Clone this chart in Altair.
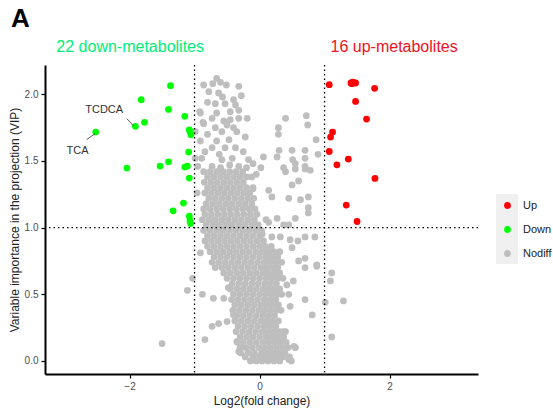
import altair as alt
import pandas as pd

# ---- significant metabolites ----
down_x = [-2.52, -1.91, -1.77, -1.82, -1.37, -1.40, -1.15, -1.08, -1.055, -2.04, -1.53,
          -1.40, -1.09, -1.15, -1.11, -1.08, -1.17, -1.33, -1.08, -1.06, -1.07, -1.07]
down_y = [1.717, 1.76, 1.79, 1.96, 2.065, 1.887, 1.835, 1.734, 1.697, 1.447, 1.462,
          1.494, 1.567, 1.454, 1.462, 1.372, 1.184, 1.126, 1.086, 1.031, 1.72, 1.05]

up_x = [1.072, 1.406, 1.437, 1.477, 1.77, 1.477, 1.646, 1.123, 1.092, 1.072, 1.365,
        1.19, 1.775, 1.334, 1.50, 1.42]
up_y = [2.072, 2.085, 2.092, 2.085, 2.045, 1.947, 1.814, 1.717, 1.679, 1.571, 1.514,
        1.471, 1.369, 1.169, 1.046, 2.08]

# ---- non-differential metabolites: dense core, one row per VIP level ----
core_rows = [
    (0.00, [-0.14, -0.05, 0.04, 0.13, 0.22, 0.31]),
    (0.03, [-0.22, -0.10, 0.00, 0.09, 0.18, 0.27, 0.36, 0.46]),
    (0.06, [-0.29, -0.18, -0.08, 0.03, 0.12, 0.21, 0.30, 0.39]),
    (0.10, [-0.30, -0.21, -0.11, -0.01, 0.08, 0.17, 0.26, 0.35, 0.44, 0.55]),
    (0.14, [-0.34, -0.25, -0.15, -0.05, 0.05, 0.14, 0.23, 0.32, 0.41]),
    (0.18, [-0.30, -0.20, -0.10, 0.00, 0.10, 0.19, 0.28, 0.37]),
    (0.22, [-0.36, -0.26, -0.16, -0.06, 0.04, 0.13, 0.22, 0.31, 0.40]),
    (0.26, [-0.33, -0.23, -0.13, -0.03, 0.07, 0.16, 0.25]),
    (0.30, [-0.38, -0.28, -0.18, -0.08, 0.02, 0.11, 0.20, 0.29]),
    (0.34, [-0.35, -0.25, -0.15, -0.05, 0.05, 0.14, 0.23]),
    (0.38, [-0.41, -0.31, -0.21, -0.11, -0.01, 0.08, 0.17, 0.26, 0.33]),
    (0.42, [-0.38, -0.28, -0.18, -0.08, 0.02, 0.11, 0.20, 0.29]),
    (0.46, [-0.43, -0.33, -0.23, -0.13, -0.03, 0.07, 0.16, 0.25]),
    (0.50, [-0.40, -0.30, -0.20, -0.10, 0.00, 0.09, 0.18, 0.27, 0.34]),
    (0.54, [-0.45, -0.35, -0.25, -0.15, -0.05, 0.05, 0.14, 0.23, 0.31]),
    (0.58, [-0.42, -0.32, -0.22, -0.12, -0.02, 0.08, 0.17, 0.26]),
    (0.62, [-0.50, -0.40, -0.30, -0.20, -0.10, 0.00, 0.10, 0.19, 0.28, 0.36]),
    (0.66, [-0.55, -0.45, -0.35, -0.25, -0.15, -0.05, 0.05, 0.14, 0.23, 0.31]),
    (0.70, [-0.68, -0.58, -0.48, -0.38, -0.28, -0.18, -0.08, 0.02, 0.11, 0.20, 0.28]),
    (0.74, [-0.73, -0.63, -0.53, -0.43, -0.33, -0.23, -0.13, -0.03, 0.07, 0.16, 0.25, 0.34]),
    (0.78, [-0.70, -0.60, -0.50, -0.40, -0.30, -0.20, -0.10, 0.00, 0.10, 0.19, 0.28]),
    (0.82, [-0.76, -0.66, -0.56, -0.46, -0.36, -0.26, -0.16, -0.06, 0.04, 0.13, 0.22, 0.31]),
    (0.86, [-0.80, -0.70, -0.60, -0.50, -0.40, -0.30, -0.20, -0.10, 0.00, 0.09, 0.18]),
    (0.90, [-0.84, -0.74, -0.64, -0.54, -0.44, -0.34, -0.24, -0.14, -0.04, 0.06]),
    (0.94, [-0.80, -0.70, -0.60, -0.50, -0.40, -0.30, -0.20, -0.10, 0.00]),
    (0.98, [-0.86, -0.76, -0.66, -0.56, -0.46, -0.36, -0.26, -0.16, -0.06, 0.03]),
    (1.02, [-0.82, -0.72, -0.62, -0.52, -0.42, -0.32, -0.22, -0.12, -0.02]),
    (1.06, [-0.88, -0.78, -0.68, -0.58, -0.48, -0.38, -0.28, -0.18, -0.08]),
    (1.10, [-0.84, -0.74, -0.64, -0.54, -0.44, -0.34, -0.24, -0.14, -0.04]),
    (1.14, [-0.86, -0.76, -0.66, -0.56, -0.46, -0.36, -0.26, -0.16, -0.07]),
    (1.18, [-0.82, -0.72, -0.62, -0.52, -0.42, -0.32, -0.22, -0.12]),
    (1.22, [-0.78, -0.68, -0.58, -0.48, -0.38, -0.28, -0.18, -0.09]),
    (1.26, [-0.84, -0.74, -0.64, -0.54, -0.44, -0.34, -0.24, -0.15]),
    (1.30, [-0.80, -0.70, -0.60, -0.50, -0.40, -0.30, -0.20, -0.10]),
    (1.34, [-0.85, -0.75, -0.65, -0.55, -0.45, -0.35, -0.25]),
    (1.38, [-0.80, -0.70, -0.60, -0.50, -0.40, -0.30, -0.20]),
    (1.42, [-0.86, -0.76, -0.66, -0.56, -0.46, -0.36, -0.26]),
]

# scattered non-differential points
scatter_x = [0.40, 0.72, 0.74, 0.29, 0.29, 0.87, 0.30, 0.50, 0.70, 0.90, 0.06, 0.27, 0.51, 0.70,
             0.55, 0.37, 0.70, 0.40, 0.55, 0.70, 0.78, 0.14, 0.19, 0.50, 0.60, 0.45, 0.63, 0.75,
             0.75, 0.75, 0.10, 0.14, 0.27, 0.37, 0.55, 0.45, 0.04, 0.19, 0.32, 0.47, 0.59, 0.70,
             0.85, 0.50, 0.60, 0.70, 0.88, 0.70, 0.88, 0.52, 0.42, 0.45, 0.70, 0.47, 0.81, 0.37,
             0.27, 0.53, 0.45, 0.49, 0.55,
             1.11, 1.09, 1.01, 1.29, 1.11,
             -1.03, -1.11, -1.50, -0.88, -0.84, -0.71, -0.91, -0.96, -0.55, -0.48, -0.63, -0.73,
             -0.50, -0.40, -0.35, -0.32, -0.10,
             -0.66, -0.86, -0.72, -0.60, -0.51, -0.32, -0.78, -0.63, -0.68, -0.53, -0.40, -0.37,
             -0.91, -0.66, -0.45, -0.32, -0.86, -0.73, -0.55, -0.45, -0.32, -0.19, -0.58, -0.50,
             -0.22, -0.99, -0.91, -0.66, -0.73, -0.84, -0.53, -0.37, -0.25, -0.17, -0.89, -0.73,
             -0.58, -0.42, -0.32, -0.99, -0.80, -0.62, -0.47, -0.35, -0.28, -0.80, -0.57, -0.95,
             -0.60, -0.46, -0.20, -0.10, -0.05, 0.02, -0.12, -0.68, -0.40, -0.92, -0.87]
scatter_y = [1.82, 1.84, 1.77, 1.75, 1.70, 1.66, 1.58, 1.58, 1.58, 1.55, 1.53, 1.53, 1.51, 1.52,
             1.48, 1.45, 1.46, 1.42, 1.44, 1.44, 1.43, 1.28, 1.23, 1.32, 1.35, 1.22, 1.21, 1.23,
             1.15, 1.11, 1.06, 1.04, 1.07, 1.02, 1.07, 1.02, 0.95, 0.93, 0.93, 0.91, 0.90, 0.93,
             0.93, 0.85, 0.75, 0.77, 0.72, 0.70, 0.71, 0.60, 0.57, 0.50, 0.46, 0.41, 0.345, 0.22,
             0.17, 0.11, 0.01, 0.00, 0.10,
             0.66, 0.60, 0.44, 0.45, 0.18,
             0.62, 0.53, 0.13, 0.50, 0.16, 0.47, 0.81, 1.26, 0.47, 0.55, 0.28, 0.26,
             0.295, 0.345, 0.145, 0.07, 1.29,
             2.12, 2.07, 2.08, 2.09, 2.07, 2.06, 2.02, 2.01, 1.93, 1.93, 1.96, 1.92,
             1.86, 1.86, 1.87, 1.88, 1.78, 1.82, 1.80, 1.81, 1.82, 1.82, 1.72, 1.77,
             1.68, 1.72, 1.65, 1.65, 1.60, 1.57, 1.60, 1.60, 1.57, 1.51, 1.52, 1.46,
             1.51, 1.52, 1.46, 1.52, 1.70, 1.55, 1.66, 1.72, 1.99, 1.94, 1.98, 1.46,
             1.45, 1.47, 1.45, 1.48, 1.40, 1.45, 1.38, 1.75, 1.75, 1.87, 1.79]

# labels
label_text = ["TCDCA", "TCA"]
label_x = [-2.39, -2.80]
label_y = [1.884, 1.577]
seg_x = [-2.04, -2.66]
seg_y = [1.817, 1.66]
seg_x2 = [-1.94, -2.53]
seg_y2 = [1.764, 1.705]

header_text = ["22 down-metabolites", "16 up-metabolites"]
header_x = [-1.99, 2.07]
header_color = ["#00EE76", "#EE1122"]

groups = ["Up", "Down", "Nodiff"]
group_colors = ["#FF0000", "#00FF00", "#BEBEBE"]

# ---- build tables ----
rows = []
for y, xs in core_rows:
    for x in xs:
        rows.append({"fc": x, "vip": y, "group": "Nodiff"})
for x, y in zip(scatter_x, scatter_y):
    rows.append({"fc": x, "vip": y, "group": "Nodiff"})
for x, y in zip(down_x, down_y):
    rows.append({"fc": x, "vip": y, "group": "Down"})
for x, y in zip(up_x, up_y):
    rows.append({"fc": x, "vip": y, "group": "Up"})
pts = pd.DataFrame(rows)
pts["order"] = pts["group"].map({"Nodiff": 0, "Down": 1, "Up": 2})

labels = pd.DataFrame({"text": label_text, "x": label_x, "y": label_y,
                       "sx": seg_x, "sy": seg_y, "sx2": seg_x2, "sy2": seg_y2})
headers = pd.DataFrame({"text": header_text, "x": header_x, "color": header_color})
vlines = pd.DataFrame({"x": [-1, 1]})
hlines = pd.DataFrame({"y": [1]})
one = pd.DataFrame({"k": [0]})

xscale = alt.Scale(domain=[-3.3, 3.36], nice=False, zero=False)
yscale = alt.Scale(domain=[-0.098, 2.22], nice=False, zero=False)

points = alt.Chart(pts).mark_circle(size=46, opacity=1).encode(
    x=alt.X("fc:Q", scale=xscale,
            axis=alt.Axis(values=[-2, 0, 2], title="Log2(fold change)", format="d")),
    y=alt.Y("vip:Q", scale=yscale,
            axis=alt.Axis(values=[0, 0.5, 1, 1.5, 2], format=".1f",
                          title="Variable importance in the projection (VIP)")),
    color=alt.Color("group:N", scale=alt.Scale(domain=groups, range=group_colors),
                    legend=alt.Legend(title=None, orient="none", legendX=457, legendY=135,
                                      symbolSize=46, symbolType="circle", labelFontSize=11,
                                      labelColor="#222222", labelFont="Liberation Sans",
                                      rowPadding=12, labelOffset=10, padding=0)),
    order=alt.Order("order:Q"),
)

keybg = alt.Chart(one).mark_rect(color="#F0F0F0").encode(
    x=alt.value(451), x2=alt.value(473), y=alt.value(129), y2=alt.value(199)
)

vrule = alt.Chart(vlines).mark_rule(color="black", strokeDash=[1.5, 3], strokeWidth=1.3).encode(
    x=alt.X("x:Q", scale=xscale)
)
hrule = alt.Chart(hlines).mark_rule(color="black", strokeDash=[1.5, 3], strokeWidth=1.3).encode(
    y=alt.Y("y:Q", scale=yscale)
)

segs = alt.Chart(labels).mark_rule(color="#333333", strokeWidth=0.8).encode(
    x=alt.X("sx:Q", scale=xscale), y=alt.Y("sy:Q", scale=yscale),
    x2="sx2:Q", y2="sy2:Q"
)
texts = alt.Chart(labels).mark_text(fontSize=11, color="#333333", font="Liberation Sans").encode(
    x=alt.X("x:Q", scale=xscale), y=alt.Y("y:Q", scale=yscale), text="text:N"
)

head = alt.Chart(headers).mark_text(fontSize=16, font="Liberation Sans").encode(
    x=alt.X("x:Q", scale=xscale), y=alt.value(-18), text="text:N",
    color=alt.Color("color:N", scale=None)
)

panel = alt.Chart(pd.DataFrame({"t": ["A"]})).mark_text(
    fontSize=26, fontWeight="bold", font="Liberation Sans", color="black", align="left"
).encode(x=alt.value(-34), y=alt.value(-46), text="t:N")

chart = alt.layer(keybg, points, vrule, hrule, segs, texts, head, panel).properties(
    width=433, height=309,
    autosize=alt.AutoSizeParams(type="none"),
    padding={"left": 45, "top": 65, "right": 75, "bottom": 41},
).configure_view(stroke=None).configure_axis(
    grid=False, domainColor="black", domainWidth=2, tickColor="black", tickWidth=1.2,
    tickSize=4, labelColor="#4D4D4D", labelFontSize=10, labelFont="Liberation Sans",
    titleFont="Liberation Sans", titleFontSize=12, titleFontWeight="normal", titleColor="#222222",
    labelPadding=3,
).configure_axisX(titlePadding=4).configure_axisY(titlePadding=3)

chart.save("out.html", embed_options={"renderer": "svg", "actions": False})
